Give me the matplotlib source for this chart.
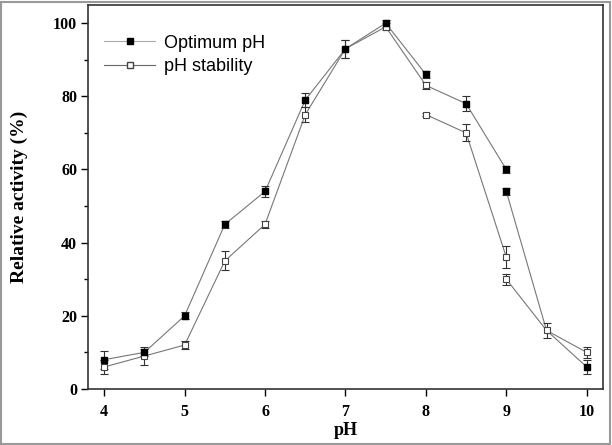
import matplotlib
matplotlib.use("Agg")
import matplotlib.pyplot as plt
from matplotlib.lines import Line2D
from matplotlib.patches import Rectangle

# markers (with error bars)
opt_x = [4, 4.5, 5, 5.5, 6, 6.5, 7, 7.5, 8, 8.5, 9, 9, 10]
opt_y = [8, 10, 20, 45, 54, 79, 93, 100, 86, 78, 60, 54, 6]
opt_err = [2.5, 1, 1, 1, 1.5, 2, 2.5, 1, 1, 2, 1, 1, 2]

stab_x = [4, 4.5, 5, 5.5, 6, 6.5, 7, 7.5, 8, 8, 8.5, 9, 9, 9.5, 10]
stab_y = [6, 9, 12, 35, 45, 75, 93, 99, 83, 75, 70, 36, 30, 16, 10]
stab_err = [2, 2.5, 1, 2.6, 1, 2, 2.5, 1, 1, 0.5, 2.3, 3, 1.5, 2, 1.5]

# connecting lines as drawn in the original
paths = [
    ([4, 4.5, 5, 5.5, 6, 6.5, 7, 7.5, 8], [8, 10, 20, 45, 54, 79, 93, 100, 86]),
    ([4, 4.5, 5, 5.5, 6, 6.5, 7, 7.5, 8, 8.5, 9], [6, 9, 12, 35, 45, 75, 93, 99, 83, 78, 60]),
    ([8, 8.5, 9], [75, 70, 36]),
    ([9, 9.5, 10], [54, 16, 6]),
    ([9, 9.5, 10], [30, 16, 10]),
]

fig = plt.figure(figsize=(6.12, 4.45), dpi=100)
ax = fig.add_axes([0.144, 0.126, 0.841, 0.863])

for px, py in paths:
    ax.plot(px, py, color="#777777", lw=0.8, zorder=1)

ax.errorbar(stab_x, stab_y, yerr=stab_err, fmt="none", ecolor="#333333",
            elinewidth=0.8, capsize=3, capthick=0.8, zorder=2)
ax.errorbar(opt_x, opt_y, yerr=opt_err, fmt="none", ecolor="#333333",
            elinewidth=0.8, capsize=3, capthick=0.8, zorder=2)
ax.plot(stab_x, stab_y, ls="none", marker="s", ms=5, mfc="white",
        mec="#444444", mew=0.8, zorder=3)
ax.plot(opt_x, opt_y, ls="none", marker="s", ms=5, mfc="black",
        mec="black", zorder=4)

ax.set_xlim(3.8, 10.2)
ax.set_ylim(0, 105)
ax.set_xticks(range(4, 11))
ax.set_yticks(range(0, 101, 20))
ax.set_yticks(range(10, 100, 20), minor=True)
ax.tick_params(axis="both", which="major", direction="out", length=5,
               width=1, labelsize=11.5, pad=3)
ax.tick_params(axis="x", which="major", pad=6)
ax.tick_params(axis="y", which="minor", direction="out", length=3, width=1)
for lab in ax.get_xticklabels() + ax.get_yticklabels():
    lab.set_fontfamily("Liberation Serif")
    lab.set_fontweight("bold")
for s in ax.spines.values():
    s.set_linewidth(1.2)
    s.set_color("#333333")

ax.set_xlabel("pH", family="Liberation Serif", fontweight="bold",
              fontsize=13, labelpad=1)
ax.set_ylabel("Relative activity (%)", family="Liberation Serif",
              fontweight="bold", fontsize=14, labelpad=18)

handles = [
    Line2D([], [], color="#aaaaaa", lw=0.8, marker="s", ms=4, mfc="black", mec="black"),
    Line2D([], [], color="#666666", lw=0.8, marker="s", ms=4, mfc="white", mec="#444444"),
]
ax.legend(handles, ["Optimum pH", "pH stability"], loc="upper left",
          bbox_to_anchor=(0.0, 0.965), frameon=False, handlelength=2.8,
          handletextpad=0.5, prop={"family": "Liberation Sans", "size": 13},
          labelspacing=0.35)

fig.patches.append(Rectangle((0.002, 0.002), 0.994, 0.994, transform=fig.transFigure,
                             fill=False, edgecolor="#999999", lw=1.5))

fig.savefig("out.png", dpi=100)
